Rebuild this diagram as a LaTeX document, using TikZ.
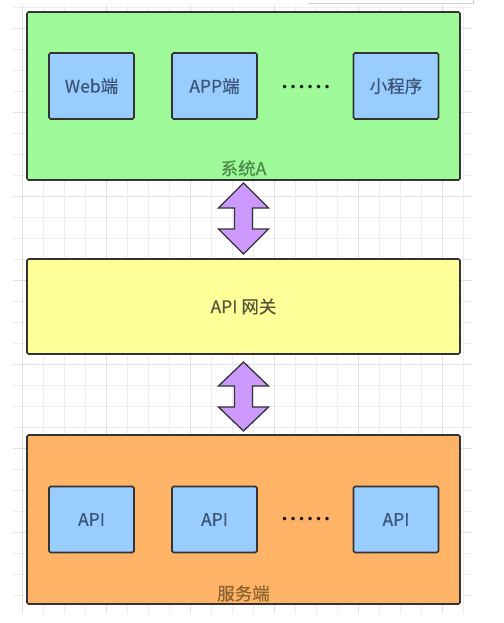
\documentclass[tikz,border=0pt]{standalone}
\usepackage{fontspec}
\setmainfont[FakeBold=0.4]{Noto Sans CJK SC}
\newfontfamily\dotfont{DejaVu Sans}
\begin{document}
\begin{tikzpicture}[x=1pt,y=-1pt,
  gridfine/.style={draw=gray!14,line width=0.6pt},
  gridbold/.style={draw=gray!24,line width=0.7pt},
  bigbox/.style={draw=black!80,line width=1.6pt,rounded corners=1.5pt,minimum width=433pt,inner sep=0pt},
  smallbox/.style={draw=black!80,line width=1.6pt,rounded corners=1.5pt,fill=blueA,minimum width=85pt,minimum height=66pt,inner sep=0pt,font=\fontsize{17.5}{19}\selectfont,text=txtblue},
  lbl/.style={inner sep=0pt,font=\fontsize{17.5}{19}\selectfont},
  dotrow/.style={inner sep=0pt,font=\dotfont\fontsize{12}{13}\selectfont,text=black!90},
  dblarrow/.style={draw=black!80,line width=1.3pt,fill=purpleA,line join=miter}
]
\definecolor{greenA}{HTML}{9EFA98}
\definecolor{yellowA}{HTML}{FFFF99}
\definecolor{orangeA}{HTML}{FFB366}
\definecolor{blueA}{HTML}{99CCFF}
\definecolor{purpleA}{HTML}{CC99FF}
\definecolor{txtblue}{HTML}{3A5575}
\definecolor{txtgreen}{HTML}{4A8A48}
\definecolor{txtolive}{HTML}{55553A}
\definecolor{txtbrown}{HTML}{8A6530}
\useasboundingbox (0,0) rectangle (503,623);
\fill[white] (0,0) rectangle (503,623);
% grid
\foreach \k in {0,...,28} {
  \pgfmathtruncatemacro{\m}{mod(\k,4)}
  \ifnum\m=1 \draw[gridbold] (13,7+21*\k) -- (472,7+21*\k);
  \else \draw[gridfine] (13,7+21*\k) -- (472,7+21*\k); \fi
}
\foreach \k in {0,...,21} {
  \pgfmathtruncatemacro{\m}{mod(\k,4)}
  \ifnum\m=0 \draw[gridbold] (22+21*\k,5) -- (22+21*\k,614);
  \else \draw[gridfine] (22+21*\k,5) -- (22+21*\k,614); \fi
}
\draw[gray!35,line width=0.6pt] (308,3) -- (473,3) -- (473,0);
% boxes
\node[bigbox,fill=greenA,minimum height=168pt] (sysA) at (243.5,96) {};
\node[bigbox,fill=yellowA,minimum height=95pt] (gw) at (243.5,306.5) {};
\node[bigbox,fill=orangeA,minimum height=169pt] (srv) at (243.5,519.5) {};
\node[lbl,text=txtgreen,anchor=base] (sysAlbl) at (243.5,175) {系统A};
\node[lbl,text=txtolive] (gwlbl) at (gw.center) {API 网关};
\node[lbl,text=txtbrown,anchor=base] (srvlbl) at (243.5,600) {服务端};
\node[smallbox] (web) at (91.5,86) {Web端};
\node[smallbox] (app) at (214.5,86) {APP端};
\node[smallbox] (mini) at (396,86) {小程序};
\node[dotrow] (dotsA) at (306,88) {\makebox[8.5pt]{•}\makebox[8.5pt]{•}\makebox[8.5pt]{•}\makebox[8.5pt]{•}\makebox[8.5pt]{•}\makebox[8.5pt]{•}};
\node[smallbox] (api1) at (91.5,519.5) {API};
\node[smallbox] (api2) at (214.5,519.5) {API};
\node[smallbox] (api3) at (396,519.5) {API};
\node[dotrow] (dotsB) at (306,520) {\makebox[8.5pt]{•}\makebox[8.5pt]{•}\makebox[8.5pt]{•}\makebox[8.5pt]{•}\makebox[8.5pt]{•}\makebox[8.5pt]{•}};
% double arrows
\coordinate (a1t) at (243.5,183);
\draw[dblarrow] (a1t) -- ++(25,25) -- ++(-16,0) -- ++(0,21) -- ++(16,0) -- ++(-25,25) -- ++(-25,-25) -- ++(16,0) -- ++(0,-21) -- ++(-16,0) -- cycle;
\coordinate (a2t) at (243.5,362);
\draw[dblarrow] (a2t) -- ++(25,24) -- ++(-16,0) -- ++(0,21) -- ++(16,0) -- ++(-25,24) -- ++(-25,-24) -- ++(16,0) -- ++(0,-21) -- ++(-16,0) -- cycle;
\end{tikzpicture}
\end{document}
